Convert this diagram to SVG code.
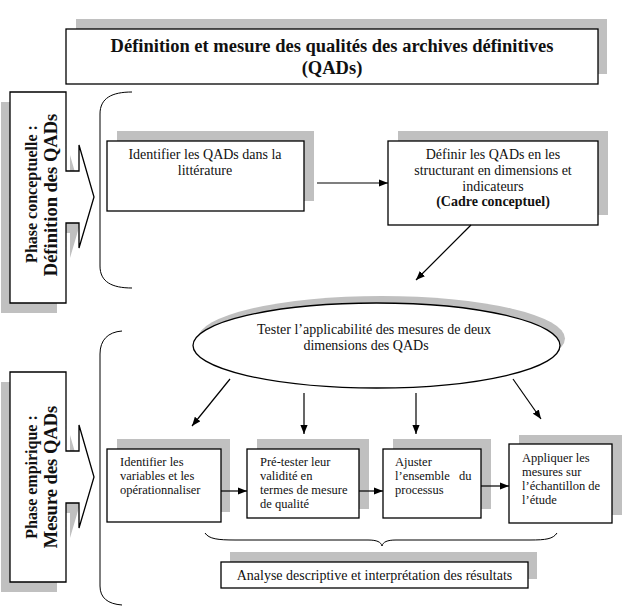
<svg xmlns="http://www.w3.org/2000/svg" width="628" height="607" viewBox="0 0 628 607">
<style>
  .bg { fill: #ffffff; }
  .shadow { fill: #c0c0c0; stroke: none; }
  .box { fill: #ffffff; stroke: #000000; stroke-width: 1.3; }
  .t { font-family: "Liberation Serif", "Times New Roman", serif; font-size: 14px; fill: #111111; }
  .s { font-family: "Liberation Serif", "Times New Roman", serif; font-size: 12.5px; fill: #111111; }
  .tb { font-family: "Liberation Serif", "Times New Roman", serif; font-weight: bold; fill: #111111; }
  .c { text-anchor: middle; }
  .conn { fill: none; stroke: #000000; stroke-width: 1.2; }
  .brace { fill: none; stroke: #000000; stroke-width: 1; }
</style>
<defs>
  <marker id="arr" viewBox="0 0 10 8" refX="10" refY="4" markerWidth="9" markerHeight="7.5" markerUnits="userSpaceOnUse" orient="auto">
    <path d="M0,0 L10,4 L0,8 Z" fill="#000000"/>
  </marker>
</defs>
<rect class="bg" x="0" y="0" width="628" height="607"/>

<g id="title">
  <rect class="shadow" x="76" y="19" width="531" height="55"/>
  <rect class="box" x="66" y="29" width="532" height="55"/>
  <text class="tb c" x="332" y="52" font-size="18.5">Définition et mesure des qualités des archives définitives</text>
  <text class="tb c" x="332" y="74" font-size="18.5">(QADs)</text>
</g>

<g id="phase-conceptuelle">
  <path class="shadow" transform="translate(-9,10)" d="M10,92 H66 V171 H79 V145 L94,197 L79,248 V223 H66 V303 H10 Z"/>
  <path class="box" d="M10,92 H66 V171 H79 V145 L94,197 L79,248 V223 H66 V303 H10 Z"/>
  <text class="tb c" font-size="16" transform="translate(37,194) rotate(-90)">Phase conceptuelle :</text>
  <text class="tb c" font-size="18.5" transform="translate(57,195) rotate(-90)">Définition des QADs</text>
</g>

<g id="phase-empirique">
  <path class="shadow" transform="translate(-9,10)" d="M10,372 H66 V451 H79 V425 L94,477 L79,528 V503 H66 V582 H10 Z"/>
  <path class="box" d="M10,372 H66 V451 H79 V425 L94,477 L79,528 V503 H66 V582 H10 Z"/>
  <text class="tb c" font-size="16" transform="translate(37,477) rotate(-90)">Phase empirique :</text>
  <text class="tb c" font-size="18.5" transform="translate(57,477) rotate(-90)">Mesure des QADs</text>
</g>

<g id="brace-conceptuelle">
  <path class="brace" d="M132,92 C112,92 100,98 100,114 L100,266 C100,282 112,288 132,288"/>
</g>
<g id="brace-empirique">
  <path class="brace" d="M122,331 C108,332 100,340 100,354 L100,586 C100,598 108,604 122,605"/>
</g>

<g id="identifier-qads">
  <rect class="shadow" x="117" y="131" width="197" height="70"/>
  <rect class="box" x="107" y="141" width="197" height="70"/>
  <text class="t c" x="205" y="159">Identifier les QADs dans la</text>
  <text class="t c" x="205" y="175">littérature</text>
</g>

<g id="definir-qads">
  <rect class="shadow" x="398" y="131" width="210" height="84"/>
  <rect class="box" x="388" y="141" width="210" height="84"/>
  <text class="t c" x="493" y="159">Définir les QADs en les</text>
  <text class="t c" x="493" y="175">structurant en dimensions et</text>
  <text class="t c" x="493" y="191">indicateurs</text>
  <text class="tb c" x="493" y="206" font-size="14">(Cadre conceptuel)</text>
</g>

<g id="tester">
  <ellipse class="shadow" cx="381.5" cy="338.5" rx="183.5" ry="42.5"/>
  <ellipse class="box" cx="376.5" cy="345.5" rx="183.5" ry="42.5" stroke-width="1"/>
  <text class="t c" x="374" y="334">Tester l’applicabilité des mesures de deux</text>
  <text class="t c" x="366" y="350">dimensions des QADs</text>
</g>

<g id="identifier-variables">
  <rect class="shadow" x="117" y="439" width="113" height="73"/>
  <rect class="box" x="107" y="449" width="114" height="73"/>
  <text class="s" x="120" y="466">Identifier les</text>
  <text class="s" x="120" y="480">variables et les</text>
  <text class="s" x="120" y="494">opérationnaliser</text>
</g>

<g id="pre-tester">
  <rect class="shadow" x="257" y="439" width="112" height="70"/>
  <rect class="box" x="247" y="449" width="112" height="69"/>
  <text class="s" x="260" y="466">Pré-tester leur</text>
  <text class="s" x="260" y="480">validité en</text>
  <text class="s" x="260" y="494">termes de mesure</text>
  <text class="s" x="260" y="508">de qualité</text>
</g>

<g id="ajuster">
  <rect class="shadow" x="393" y="439" width="98" height="70"/>
  <rect class="box" x="383" y="449" width="98" height="69"/>
  <text class="s" x="395" y="466">Ajuster</text>
  <text class="s" x="395" y="480" word-spacing="6">l’ensemble du</text>
  <text class="s" x="395" y="494">processus</text>
</g>

<g id="appliquer">
  <rect class="shadow" x="519" y="435" width="103" height="80"/>
  <rect class="box" x="509" y="444" width="103" height="79"/>
  <text class="s" x="522" y="462">Appliquer les</text>
  <text class="s" x="522" y="476">mesures sur</text>
  <text class="s" x="522" y="490">l’échantillon de</text>
  <text class="s" x="522" y="504">l’étude</text>
</g>

<g id="brace-resultats">
  <path class="brace" d="M205,533 C209,539 218,540 235,540 L368,540 C377,540 381,542 382,546 C383,542 387,540 396,540 L530,540 C546,540 553,539 557,533"/>
</g>

<g id="analyse">
  <rect class="shadow" x="230" y="552" width="307" height="27"/>
  <rect class="box" x="221" y="562" width="307" height="26"/>
  <text class="t c" x="374.5" y="580">Analyse descriptive et interprétation des résultats</text>
</g>

<g id="connectors">
  <path class="conn" d="M317,183 L388,183" marker-end="url(#arr)"/>
  <path class="conn" d="M471,225 L416,280" marker-end="url(#arr)"/>
  <path class="conn" d="M230,379 L192,426" marker-end="url(#arr)"/>
  <path class="conn" d="M304,393 L304,434" marker-end="url(#arr)"/>
  <path class="conn" d="M416,393 L416,434" marker-end="url(#arr)"/>
  <path class="conn" d="M513,379 L541,419" marker-end="url(#arr)"/>
  <path class="conn" d="M221,491 L247,491" marker-end="url(#arr)"/>
  <path class="conn" d="M359,491 L383,491" marker-end="url(#arr)"/>
  <path class="conn" d="M481,486 L509,486" marker-end="url(#arr)"/>
</g>
</svg>
